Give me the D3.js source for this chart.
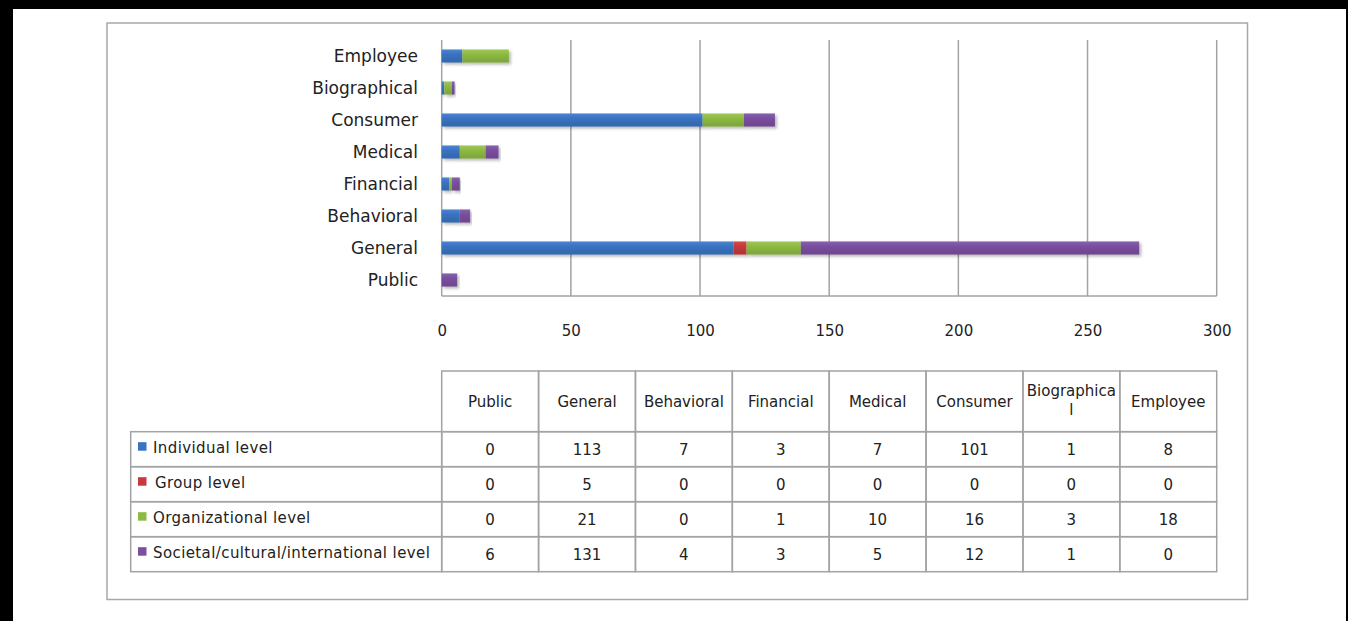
<!DOCTYPE html>
<html>
<head>
<meta charset="utf-8">
<script src="https://cdn.jsdelivr.net/npm/d3@7"></script>
<style>
  html, body { margin: 0; padding: 0; background: #fff; }
  svg { display: block; }
  text { font-family: "DejaVu Sans", sans-serif; fill: #222; }
</style>
</head>
<body>
<svg id="chart" width="1348" height="621"></svg>
<script>
// ---- data ----
const categories = ["Public", "General", "Behavioral", "Financial", "Medical", "Consumer", "Biographical", "Employee"];
const seriesNames = ["Individual level", "Group level", "Organizational level", "Societal/cultural/international level"];
const individualLevel = [0, 113, 7, 3, 7, 101, 1, 8];
const groupLevel = [0, 5, 0, 0, 0, 0, 0, 0];
const organizationalLevel = [0, 21, 0, 1, 10, 16, 3, 18];
const societalLevel = [6, 131, 4, 3, 5, 12, 1, 0];
const xTicks = [0, 50, 100, 150, 200, 250, 300];
const colors = ["#3a73c1", "#c63a3c", "#8dba43", "#7a4f9f"];
const colorsLight = ["#4a86d4", "#d84a4a", "#9dcb52", "#8a60b0"];

const seriesValues = [individualLevel, groupLevel, organizationalLevel, societalLevel];
const rows = categories.map((c, i) => {
  const o = { category: c };
  seriesNames.forEach((s, j) => o[s] = seriesValues[j][i]);
  return o;
});

const svg = d3.select("#chart");
const gridColor = "#a3a3a3";

// frame / border
svg.append("rect").attr("x", 0).attr("y", 0).attr("width", 1348).attr("height", 9).attr("fill", "#000");
svg.append("rect").attr("x", 0).attr("y", 0).attr("width", 13).attr("height", 621).attr("fill", "#000");
svg.append("rect").attr("x", 1346).attr("y", 0).attr("width", 2).attr("height", 621).attr("fill", "#000");
svg.append("rect").attr("x", 107).attr("y", 23).attr("width", 1140.5).attr("height", 576.5)
  .attr("fill", "none").attr("stroke", "#a8a8a8").attr("stroke-width", 1.5);

// defs
const defs = svg.append("defs");
const f = defs.append("filter").attr("id", "shadow").attr("x", "-5%").attr("y", "-50%").attr("width", "120%").attr("height", "250%");
f.append("feDropShadow").attr("dx", 2).attr("dy", 2).attr("stdDeviation", 1.6).attr("flood-color", "#000").attr("flood-opacity", 0.28);
seriesNames.forEach((s, j) => {
  const g = defs.append("linearGradient").attr("id", "grad" + j).attr("x1", 0).attr("y1", 0).attr("x2", 0).attr("y2", 1);
  g.append("stop").attr("offset", "0%").attr("stop-color", colorsLight[j]);
  g.append("stop").attr("offset", "35%").attr("stop-color", colors[j]);
  g.append("stop").attr("offset", "100%").attr("stop-color", d3.color(colors[j]).darker(0.35));
});

// scales
const plotLeft = 441.7, plotRight = 1216.7, plotTop = 40, plotBottom = 296;
const x = d3.scaleLinear().domain([0, 300]).range([plotLeft, plotRight]);
const y = d3.scaleBand().domain(categories.slice().reverse()).range([plotTop, plotBottom])
  .paddingInner(0.59).paddingOuter(0.295);

// gridlines
svg.append("g").selectAll("line").data(xTicks.slice(1)).join("line")
  .attr("x1", d => x(d)).attr("x2", d => x(d))
  .attr("y1", plotTop).attr("y2", plotBottom)
  .attr("stroke", gridColor).attr("stroke-width", 1.5);

// axes lines
svg.append("line").attr("x1", plotLeft).attr("x2", plotLeft).attr("y1", plotTop).attr("y2", plotBottom)
  .attr("stroke", gridColor).attr("stroke-width", 1.5);
svg.append("line").attr("x1", plotLeft).attr("x2", plotRight).attr("y1", plotBottom).attr("y2", plotBottom)
  .attr("stroke", gridColor).attr("stroke-width", 1.5);

// x tick labels
const xAxis = d3.axisBottom(x).tickValues(xTicks).tickSize(0).tickPadding(0);
const xg = svg.append("g").attr("transform", `translate(0,${plotBottom + 35})`).call(xAxis);
xg.select(".domain").remove();
xg.selectAll("text").attr("font-size", 15).attr("font-family", "DejaVu Sans, sans-serif")
  .attr("fill", "#222").attr("dy", "0.35em").attr("y", 0);

// y category labels
const yAxis = d3.axisLeft(y).tickSize(0).tickPadding(0);
const yg = svg.append("g").attr("transform", `translate(418,0)`).call(yAxis);
yg.select(".domain").remove();
yg.selectAll("text").attr("font-size", 17).attr("font-family", "DejaVu Sans, sans-serif")
  .attr("fill", "#222").attr("x", 0).attr("dy", "0.35em");

// stacked bars
const stack = d3.stack().keys(seriesNames);
const stacked = stack(rows);
const barG = svg.append("g");
stacked.forEach((layer, j) => {
  barG.append("g").selectAll("rect").data(layer.filter(d => d[1] - d[0] > 0)).join("rect")
    .attr("x", d => x(d[0]))
    .attr("width", d => x(d[1]) - x(d[0]))
    .attr("y", d => y(d.data.category))
    .attr("height", y.bandwidth())
    .attr("fill", `url(#grad${j})`)
    .attr("filter", "url(#shadow)");
});

// data table
const colX0 = 441.7, colW = (1216.7 - 441.7) / categories.length;
const tableLeft = 130.7;
const headerTop = 371, headerBottom = 431.7;
const rowH = (571.7 - 431.7) / 4;
const tg = svg.append("g");
const lineAttr = sel => sel.attr("stroke", gridColor).attr("stroke-width", 1.5);

// header cells
categories.forEach((c, i) => {
  tg.append("rect").attr("x", colX0 + i * colW).attr("y", headerTop).attr("width", colW).attr("height", headerBottom - headerTop)
    .attr("fill", "none").call(lineAttr);
  const cx = colX0 + i * colW + colW / 2;
  if (c === "Biographical") {
    const t = tg.append("text").attr("text-anchor", "middle").attr("font-size", 15);
    t.append("tspan").attr("x", cx).attr("y", headerTop + 25).text("Biographica");
    t.append("tspan").attr("x", cx).attr("y", headerTop + 44).text("l");
  } else {
    tg.append("text").attr("x", cx).attr("y", (headerTop + headerBottom) / 2).attr("dy", "0.35em")
      .attr("text-anchor", "middle").attr("font-size", 15).text(c);
  }
});

// body rows
seriesNames.forEach((s, j) => {
  const ry = headerBottom + j * rowH;
  tg.append("rect").attr("x", tableLeft).attr("y", ry).attr("width", colX0 - tableLeft).attr("height", rowH)
    .attr("fill", "none").call(lineAttr);
  tg.append("rect").attr("x", 138).attr("y", ry + rowH / 2 - 7).attr("width", 8.5).attr("height", 8.5).attr("fill", colors[j]);
  tg.append("text").attr("x", j === 1 ? 155 : 153).attr("y", ry + rowH / 2 - 1).attr("dy", "0.35em")
    .attr("font-size", 15).attr("letter-spacing", 0.4).text(s);
  seriesValues[j].forEach((v, i) => {
    tg.append("rect").attr("x", colX0 + i * colW).attr("y", ry).attr("width", colW).attr("height", rowH)
      .attr("fill", "none").call(lineAttr);
    tg.append("text").attr("x", colX0 + i * colW + colW / 2).attr("y", ry + rowH / 2 + 1).attr("dy", "0.35em")
      .attr("text-anchor", "middle").attr("font-size", 15).text(v);
  });
});
</script>
</body>
</html>
